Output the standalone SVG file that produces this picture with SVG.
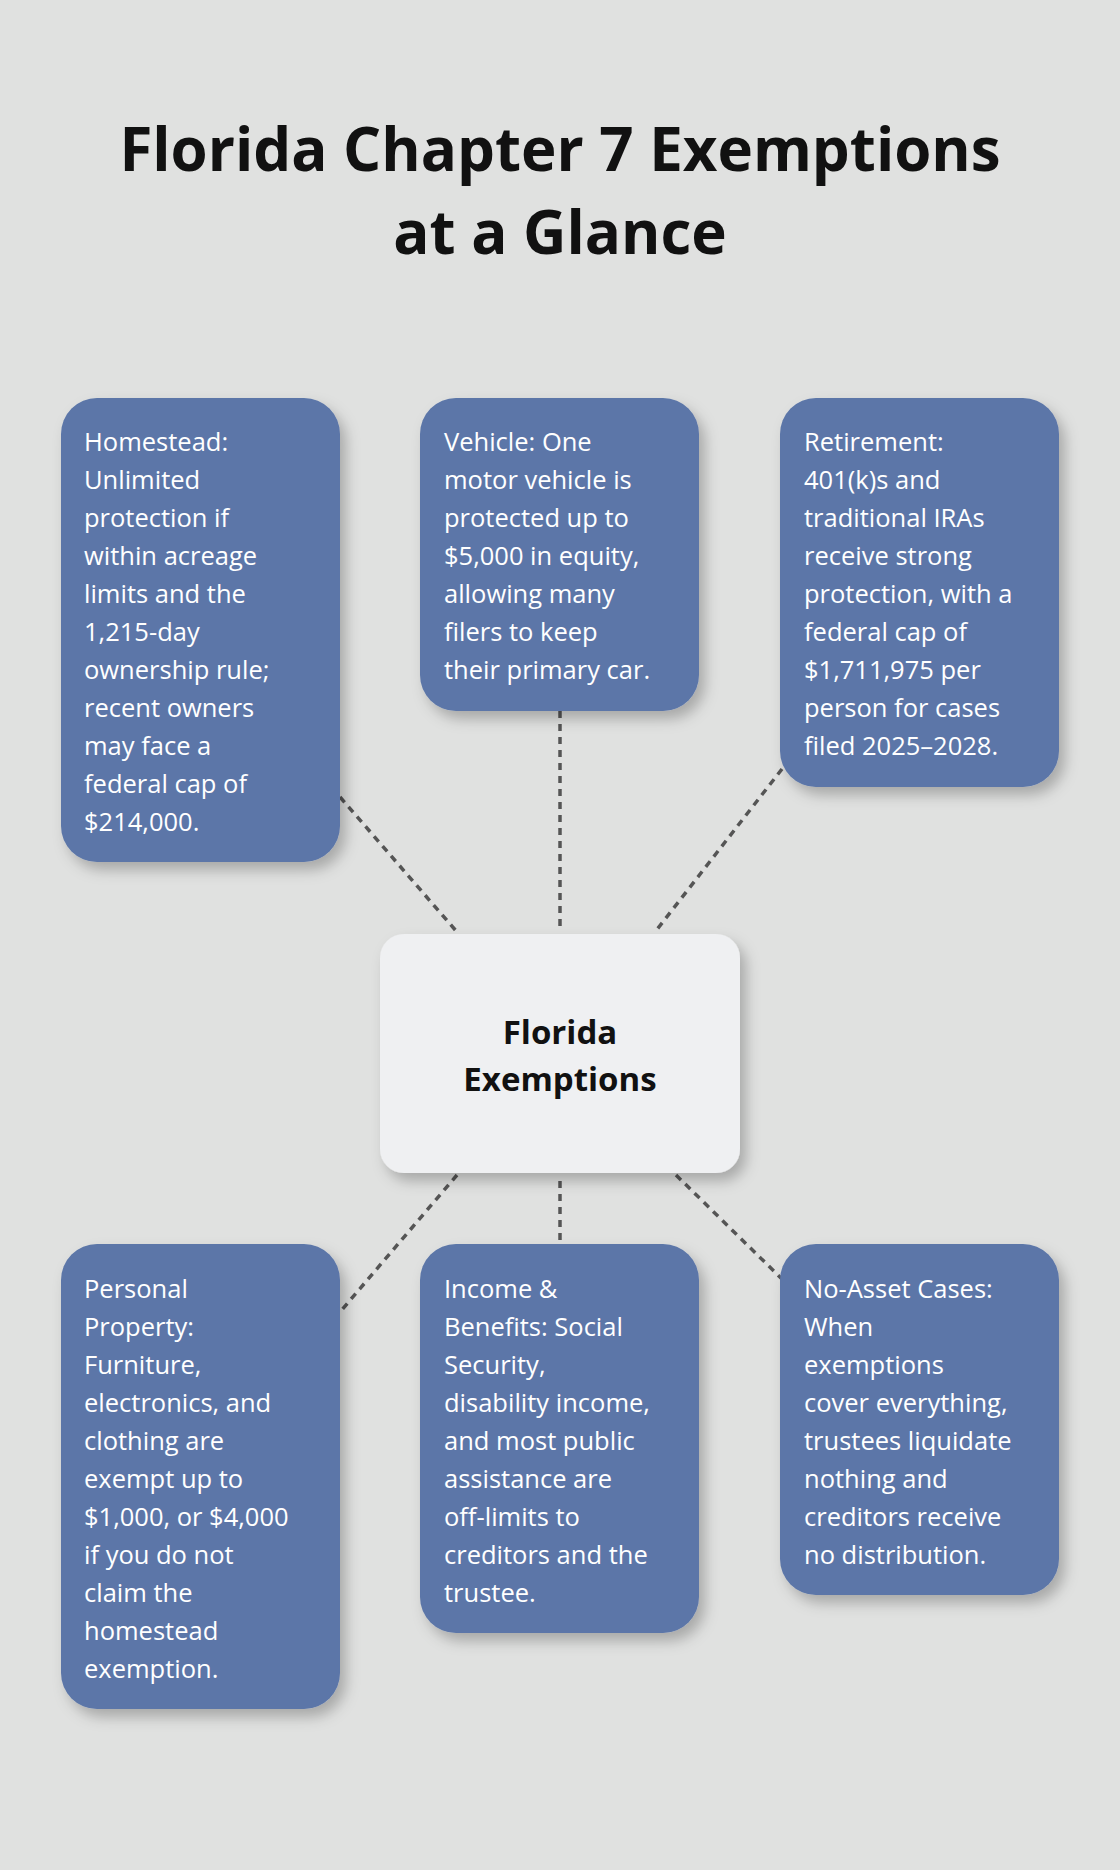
<svg xmlns="http://www.w3.org/2000/svg" width="1120" height="1870" viewBox="0 0 1120 1870">
<defs>
<filter id="sh" x="-20%" y="-20%" width="150%" height="150%"><feDropShadow dx="6" dy="8" stdDeviation="7" flood-color="#000" flood-opacity="0.25"/></filter>
<style>
.box{fill:#5b76a8;filter:url(#sh)}
.t{font-family:"Open Sans","Noto Sans",sans-serif;font-size:25.5px;fill:#fff}
.c{fill:none;stroke:#555;stroke-width:3.5;stroke-dasharray:7 6}
.h{font-family:"Open Sans","Noto Sans",sans-serif;font-weight:bold;fill:#111;text-anchor:middle}
</style>
</defs>
<rect width="1120" height="1870" fill="#e0e1e0"/>
<text class="h" font-size="60" x="560" y="171">Florida Chapter 7 Exemptions</text>
<text class="h" font-size="60" x="560" y="254">at a Glance</text>
<g id="connectors">
<line class="c" x1="340" y1="797" x2="457" y2="932"/>
<line class="c" x1="560" y1="711" x2="560" y2="930"/>
<line class="c" x1="782" y1="769" x2="655" y2="932"/>
<line class="c" x1="457" y1="1175" x2="340" y2="1312"/>
<line class="c" x1="560" y1="1181" x2="560" y2="1241"/>
<line class="c" x1="676" y1="1175" x2="782" y2="1279"/>
</g>
<g id="center">
<rect x="380" y="934" width="360" height="239" rx="24" fill="#eff0f2" filter="url(#sh)"/>
<text class="h" font-size="33" x="560" y="1044">Florida</text>
<text class="h" font-size="33" x="560" y="1091">Exemptions</text>
</g>
<g id="homestead">
<rect class="box" x="61" y="398" width="279" height="464" rx="36"/>
<text class="t" x="84" y="451">Homestead:<tspan x="84" dy="38">Unlimited</tspan><tspan x="84" dy="38">protection if</tspan><tspan x="84" dy="38">within acreage</tspan><tspan x="84" dy="38">limits and the</tspan><tspan x="84" dy="38">1,215-day</tspan><tspan x="84" dy="38">ownership rule;</tspan><tspan x="84" dy="38">recent owners</tspan><tspan x="84" dy="38">may face a</tspan><tspan x="84" dy="38">federal cap of</tspan><tspan x="84" dy="38">$214,000.</tspan></text>
</g>
<g id="vehicle">
<rect class="box" x="420" y="398" width="279" height="313" rx="36"/>
<text class="t" x="444" y="451">Vehicle: One<tspan x="444" dy="38">motor vehicle is</tspan><tspan x="444" dy="38">protected up to</tspan><tspan x="444" dy="38">$5,000 in equity,</tspan><tspan x="444" dy="38">allowing many</tspan><tspan x="444" dy="38">filers to keep</tspan><tspan x="444" dy="38">their primary car.</tspan></text>
</g>
<g id="retirement">
<rect class="box" x="780" y="398" width="279" height="389" rx="36"/>
<text class="t" x="804" y="451">Retirement:<tspan x="804" dy="38">401(k)s and</tspan><tspan x="804" dy="38">traditional IRAs</tspan><tspan x="804" dy="38">receive strong</tspan><tspan x="804" dy="38">protection, with a</tspan><tspan x="804" dy="38">federal cap of</tspan><tspan x="804" dy="38">$1,711,975 per</tspan><tspan x="804" dy="38">person for cases</tspan><tspan x="804" dy="38">filed 2025–2028.</tspan></text>
</g>
<g id="personal">
<rect class="box" x="61" y="1244" width="279" height="465" rx="36"/>
<text class="t" x="84" y="1298">Personal<tspan x="84" dy="38">Property:</tspan><tspan x="84" dy="38">Furniture,</tspan><tspan x="84" dy="38">electronics, and</tspan><tspan x="84" dy="38">clothing are</tspan><tspan x="84" dy="38">exempt up to</tspan><tspan x="84" dy="38">$1,000, or $4,000</tspan><tspan x="84" dy="38">if you do not</tspan><tspan x="84" dy="38">claim the</tspan><tspan x="84" dy="38">homestead</tspan><tspan x="84" dy="38">exemption.</tspan></text>
</g>
<g id="income">
<rect class="box" x="420" y="1244" width="279" height="389" rx="36"/>
<text class="t" x="444" y="1298">Income &amp;<tspan x="444" dy="38">Benefits: Social</tspan><tspan x="444" dy="38">Security,</tspan><tspan x="444" dy="38">disability income,</tspan><tspan x="444" dy="38">and most public</tspan><tspan x="444" dy="38">assistance are</tspan><tspan x="444" dy="38">off-limits to</tspan><tspan x="444" dy="38">creditors and the</tspan><tspan x="444" dy="38">trustee.</tspan></text>
</g>
<g id="noasset">
<rect class="box" x="780" y="1244" width="279" height="351" rx="36"/>
<text class="t" x="804" y="1298">No-Asset Cases:<tspan x="804" dy="38">When</tspan><tspan x="804" dy="38">exemptions</tspan><tspan x="804" dy="38">cover everything,</tspan><tspan x="804" dy="38">trustees liquidate</tspan><tspan x="804" dy="38">nothing and</tspan><tspan x="804" dy="38">creditors receive</tspan><tspan x="804" dy="38">no distribution.</tspan></text>
</g>
</svg>
